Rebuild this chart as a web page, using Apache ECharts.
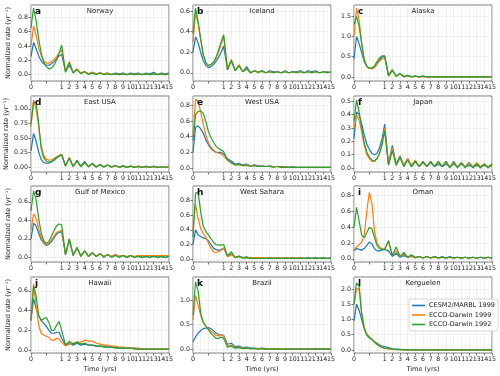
<!DOCTYPE html>
<html>
<head>
<meta charset="utf-8">
<script src="https://cdn.jsdelivr.net/npm/echarts@6/dist/echarts.min.js"></script>
<style>
  html, body { margin: 0; padding: 0; background: #fff; }
  #chart { width: 500px; height: 376px; }
</style>
</head>
<body>
<div id="chart"></div>
<script>
// sample times in years: monthly over the first year, then every half year
const T = [0, 0.083, 0.167, 0.25, 0.333, 0.417, 0.5, 0.583, 0.667, 0.75, 0.833, 0.917, 1,
  1.5, 2, 2.5, 3, 3.5, 4, 4.5, 5, 5.5, 6, 6.5, 7, 7.5, 8, 8.5, 9, 9.5, 10,
  10.5, 11, 11.5, 12, 12.5, 13, 13.5, 14, 14.5, 15];

// a Norway
const aCesm = [.25,.45,.36,.26,.19,.15,.13,.13,.15,.18,.22,.26,.28,
  .04,.13,.03,.07,.02,.04,.01,.03,.01,.02,.01,.02,0,.02,.01,.02,0,.02,.01,.02,0,.02,.01,.03,0,.02,.01,.02];
const aEcco99 = [.40,.68,.55,.38,.26,.19,.16,.16,.18,.21,.25,.30,.34,
  .05,.18,.03,.08,.02,.04,.01,.03,.01,.02,.01,.02,0,.01,0,.01,0,.01,0,.01,0,.01,0,.01,0,.01,0,.01];
const aEcco92 = [.65,.93,.75,.50,.30,.17,.11,.08,.09,.13,.20,.30,.41,
  .03,.17,.02,.07,.01,.04,0,.02,0,.02,0,.01,0,.01,0,.01,0,.01,0,.01,0,.01,0,.01,0,.01,0,.01];
// b Iceland
const bCesm = [.20,.35,.29,.20,.12,.07,.05,.06,.08,.11,.15,.20,.26,
  .03,.12,.02,.07,.01,.06,0,.02,.01,.02,0,.02,.01,.01,0,.02,0,.01,.01,.02,0,.02,.01,.02,0,.01,.01,0];
const bEcco99 = [.30,.58,.48,.32,.18,.10,.07,.08,.10,.14,.20,.28,.35,
  .03,.13,.02,.08,.01,.04,0,.02,.01,.01,0,.01,0,.01,0,.01,0,.01,0,.01,0,.01,0,.01,0,.01,0,.01];
const bEcco92 = [.38,.63,.50,.33,.18,.10,.07,.08,.10,.15,.22,.30,.37,
  .03,.12,.02,.07,.01,.04,0,.02,0,.02,0,.01,0,.01,0,.01,0,.01,0,.01,0,.01,0,.01,0,.01,0,.01];
// c Alaska
const cCesm = [.45,1.00,.82,.60,.38,.26,.21,.21,.25,.33,.42,.49,.52,
  .05,.17,.03,.08,.01,.04,.01,.02,0,.02,0,.01,0,.01,0,.01,0,.01,0,.01,0,.01,0,.01,0,.01,0,.01];
const cEcco99 = [1.00,1.70,1.40,.85,.42,.26,.21,.20,.23,.31,.39,.45,.47,
  .04,.15,.02,.07,.01,.03,0,.02,0,.01,0,.01,0,.01,0,.01,0,.01,0,.01,0,.01,0,.01,0,.01,0,.01];
const cEcco92 = [1.30,1.50,1.25,.82,.42,.26,.22,.22,.27,.38,.47,.52,.52,
  .02,.18,.01,.09,0,.04,0,.02,0,.02,0,.01,0,.01,0,.01,0,.01,0,.01,0,.01,0,.01,0,.01,0,.01];
// d East USA
const dCesm = [.28,.58,.45,.26,.13,.08,.07,.07,.09,.12,.16,.19,.21,
  .03,.16,.02,.12,.02,.10,.01,.07,.01,.05,.01,.04,.01,.03,0,.03,0,.02,0,.02,0,.02,0,.02,0,.01,0,.01];
const dEcco99 = [.70,1.15,1.00,.70,.36,.20,.14,.12,.13,.15,.18,.20,.22,
  .02,.17,.02,.11,.01,.08,.01,.06,.01,.05,.01,.04,0,.03,0,.02,0,.02,0,.02,0,.01,0,.01,0,.01,0,.01];
const dEcco92 = [.75,1.12,1.10,.75,.32,.16,.10,.09,.10,.13,.17,.20,.22,
  .02,.16,.01,.11,.01,.08,.01,.06,0,.05,0,.04,0,.03,0,.02,0,.02,0,.01,0,.01,0,.01,0,.01,0,.01];
// e West USA
const eCesm = [.20,.52,.54,.50,.45,.36,.30,.25,.22,.20,.20,.20,.18,
  .12,.09,.05,.06,.04,.05,.03,.04,.03,.03,.02,.03,.02,.02,.02,.02,.01,.02,.01,.01,.01,.01,.01,.01,.01,.01,.01,.01];
const eEcco99 = [.40,.88,.85,.72,.56,.42,.33,.27,.23,.20,.19,.18,.15,
  .10,.06,.04,.05,.03,.04,.03,.03,.02,.03,.02,.02,.02,.02,.01,.02,.01,.01,.01,.01,.01,.01,.01,.01,.01,.01,.01,.01];
const eEcco92 = [.35,.68,.72,.73,.70,.60,.47,.39,.33,.28,.25,.23,.21,
  .10,.07,.04,.04,.03,.03,.02,.03,.02,.02,.02,.02,.01,.02,.01,.01,.01,.01,.01,.01,.01,.01,.01,.01,.01,.01,.01,.01];
// f Japan
const fCesm = [.22,.42,.40,.33,.25,.18,.14,.11,.10,.11,.15,.22,.33,
  .03,.17,.03,.09,.02,.07,.01,.05,.01,.04,.01,.04,.01,.03,.01,.03,.01,.03,.01,.03,.01,.02,.01,.02,.01,.02,.01,.02];
const fEcco99 = [.30,.40,.36,.27,.17,.10,.07,.05,.05,.07,.11,.18,.30,
  .03,.15,.02,.08,.02,.07,.02,.06,.01,.05,.01,.05,.01,.05,.01,.05,.01,.04,.01,.04,.01,.04,.01,.04,.01,.03,.01,.03];
const fEcco92 = [.35,.51,.42,.30,.19,.12,.08,.06,.05,.07,.11,.18,.28,
  .02,.13,.02,.08,.01,.06,.01,.05,.01,.05,.01,.05,.01,.05,.01,.05,0,.05,0,.04,0,.04,0,.03,0,.03,0,.03];
// g Gulf of Mexico
const gCesm = [.20,.37,.34,.26,.19,.15,.13,.14,.17,.21,.25,.27,.28,
  .03,.18,.03,.10,.02,.07,.01,.05,.01,.04,.01,.03,.01,.03,.01,.02,0,.02,0,.02,0,.01,0,.02,0,.01,0,.01];
const gEcco99 = [.30,.47,.42,.31,.21,.16,.14,.15,.19,.23,.27,.28,.29,
  .03,.20,.02,.10,.01,.07,.01,.05,.01,.04,.01,.03,.01,.03,.01,.02,.01,.02,.01,.02,.02,.02,.02,.02,.02,.02,.02,.02];
const gEcco92 = [.50,.72,.62,.42,.26,.18,.15,.17,.23,.29,.34,.36,.35,
  .03,.20,.02,.11,.01,.07,.01,.05,.01,.04,0,.03,0,.02,0,.02,0,.02,0,.01,0,.01,0,.01,0,.01,0,.01];
// h West Sahara
const hCesm = [.20,.40,.33,.31,.29,.28,.25,.20,.15,.13,.12,.13,.15,
  .05,.07,.02,.04,.02,.03,.01,.02,.01,.02,.01,.02,.01,.02,.01,.02,.01,.02,.01,.02,.01,.02,.01,.02,.01,.02,.01,.02];
const hEcco99 = [.40,.75,.55,.42,.35,.30,.22,.15,.10,.09,.10,.12,.15,
  .03,.06,.02,.03,.02,.02,.02,.02,.02,.02,.01,.02,.01,.02,.01,.02,.01,.02,.01,.02,.01,.01,.01,.01,.01,.01,.01,.01];
const hEcco92 = [.30,.90,.92,.65,.45,.38,.33,.28,.23,.20,.19,.19,.20,
  .04,.10,.02,.04,.01,.02,.01,.01,.01,.01,.01,.01,.01,.01,.01,.01,.01,.01,.01,.01,.01,.01,.01,.01,.01,.01,.01,.01];
// i Oman
const iCesm = [.10,.13,.12,.11,.13,.17,.21,.19,.13,.10,.10,.11,.12,
  .10,.03,.07,.02,.04,.02,.03,.01,.03,.01,.03,.01,.03,.01,.03,.01,.03,.01,.02,.01,.02,.01,.02,.01,.02,.01,.02,.01];
const iEcco99 = [.12,.15,.18,.21,.30,.60,.84,.70,.35,.20,.15,.13,.12,
  .22,.05,.10,.03,.06,.02,.04,.01,.03,.01,.03,.01,.02,.01,.02,.01,.02,.01,.02,.01,.02,.01,.02,.01,.02,.01,.02,.01];
const iEcco92 = [.40,.65,.48,.30,.27,.33,.40,.38,.27,.17,.13,.12,.12,
  .23,.04,.15,.03,.08,.02,.05,.02,.03,.01,.03,.01,.03,.01,.02,.01,.02,.01,.02,.01,.02,.01,.02,.01,.02,.01,.02,.01];
// j Hawaii
const jCesm = [.30,.52,.42,.35,.30,.27,.24,.20,.17,.17,.18,.18,.12,
  .05,.07,.05,.07,.05,.06,.05,.05,.04,.04,.04,.03,.03,.03,.02,.02,.02,.02,.02,.01,.01,.01,.01,.01,.01,.01,.01,.01];
const jEcco99 = [.30,.67,.45,.25,.17,.15,.14,.13,.10,.10,.12,.11,.08,
  .04,.06,.07,.08,.08,.10,.09,.09,.07,.06,.05,.05,.04,.04,.03,.03,.02,.02,.02,.02,.01,.01,.01,.01,.01,.01,.01,.01];
const jEcco92 = [.30,.65,.55,.35,.30,.32,.33,.28,.20,.20,.25,.29,.20,
  .05,.09,.06,.08,.06,.07,.05,.05,.04,.04,.03,.03,.03,.02,.02,.02,.02,.02,.01,.01,.01,.01,.01,.01,.01,.01,.01,.01];
// k Brazil
const kCesm = [.15,.25,.33,.38,.42,.43,.44,.42,.38,.33,.30,.29,.28,
  .10,.12,.05,.06,.03,.04,.02,.02,.01,.02,.01,.01,.01,.01,0,.01,0,.01,0,.01,0,.01,0,.01,0,.01,0,.01];
const kEcco99 = [.60,1.10,.90,.70,.55,.48,.42,.37,.33,.28,.27,.30,.28,
  .06,.08,.03,.04,.02,.02,.01,.01,.01,.01,0,.01,0,.01,0,.01,0,0,0,0,0,0,0,0,0,0,0,0];
const kEcco92 = [.70,1.38,1.20,.75,.55,.47,.40,.33,.27,.22,.22,.25,.22,
  .04,.06,.02,.03,.01,.02,.01,.01,0,.01,0,0,0,0,0,0,0,0,0,0,0,0,0,0,0,0,0,0];
// l Kerguelen
const lCesm = [.95,1.50,1.30,1.00,.70,.52,.42,.35,.28,.22,.16,.13,.11,
  .08,.04,.03,.02,.01,.01,0,.01,0,0,0,0,0,0,0,0,0,0,0,0,0,0,0,0,0,0,0,0];
const lEcco99 = [1.50,2.00,2.00,1.20,.75,.50,.42,.35,.27,.20,.13,.08,.05,
  .03,.02,.01,.01,0,0,0,0,0,0,0,0,0,0,0,0,0,0,0,0,0,0,0,0,0,0,0,0];
const lEcco92 = [1.50,2.20,2.10,1.20,.70,.48,.40,.33,.25,.18,.12,.08,.06,
  .05,.03,.02,.01,0,0,0,0,0,0,0,0,0,0,0,0,0,0,0,0,0,0,0,0,0,0,0,0];

const regions = ['Norway', 'Iceland', 'Alaska', 'East USA', 'West USA', 'Japan',
  'Gulf of Mexico', 'West Sahara', 'Oman', 'Hawaii', 'Brazil', 'Kerguelen'];
const letters = ['a', 'b', 'c', 'd', 'e', 'f', 'g', 'h', 'i', 'j', 'k', 'l'];
const seriesNames = ['CESM2/MARBL 1999', 'ECCO-Darwin 1999', 'ECCO-Darwin 1992'];
const yTicks = [
  [0, 0.2, 0.4, 0.6, 0.8], [0, 0.2, 0.4, 0.6], [0, 0.5, 1, 1.5],
  [0, 0.25, 0.5, 0.75, 1], [0, 0.2, 0.4, 0.6, 0.8], [0, 0.1, 0.2, 0.3, 0.4, 0.5],
  [0, 0.2, 0.4, 0.6], [0, 0.2, 0.4, 0.6, 0.8], [0, 0.2, 0.4, 0.6, 0.8],
  [0, 0.2, 0.4, 0.6], [0, 0.5, 1], [0, 0.5, 1, 1.5, 2]
];
const yDecimals = [1, 1, 1, 2, 1, 1, 1, 1, 1, 1, 1, 1];
const yMin = [-0.09, -0.08, -0.1, -0.08, -0.05, -0.03, -0.05, -0.04, -0.04, -0.03, -0.08, -0.1];
const yMax = [0.97, 0.66, 1.78, 1.22, 0.92, 0.54, 0.77, 1.0, 0.92, 0.74, 1.48, 2.39];
const xTickYears = [0, 0.5, 1, 2, 3, 4, 5, 6, 7, 8, 9, 10, 11, 12, 13, 14, 15];

const panels = [
  [aCesm, aEcco99, aEcco92], [bCesm, bEcco99, bEcco92], [cCesm, cEcco99, cEcco92],
  [dCesm, dEcco99, dEcco92], [eCesm, eEcco99, eEcco92], [fCesm, fEcco99, fEcco92],
  [gCesm, gEcco99, gEcco92], [hCesm, hEcco99, hEcco92], [iCesm, iEcco99, iEcco92],
  [jCesm, jEcco99, jEcco92], [kCesm, kEcco99, kEcco92], [lCesm, lEcco99, lEcco92]
];

const colors = ['#1f77b4', '#ff7f0e', '#2ca02c'];
const font = 'DejaVu Sans';
const colLeft = [31, 193, 354];
const rowTop = [5, 96, 186, 277];
const W = 138, H = 76;

// first year is stretched 4x on the time axis
const toU = (t) => (t <= 1 ? t * 4 : t + 3);
const fromU = (u) => (u <= 4 ? u / 4 : u - 3);

// label positions; a blank dummy sits last so echarts' max-label hiding
// drops it instead of the "14"
const xLabelValues = xTickYears.map(toU).concat([17.99]);

const chart = echarts.init(document.getElementById('chart'), null, { renderer: 'canvas' });

const grid = [], xAxis = [], yAxis = [], series = [], title = [];

regions.forEach((name, i) => {
  const col = i % 3, row = Math.floor(i / 3);
  const left = colLeft[col], top = rowTop[row];

  grid.push({
    left: left, top: top, width: W, height: H,
    show: true, borderColor: '#555', borderWidth: 0.8,
    outerBoundsMode: 'none'
  });

  // main time axis: ticks and labels
  xAxis.push({
    gridIndex: i, type: 'value', min: 0, max: 18,
    name: row === 3 ? 'Time (yrs)' : '',
    nameLocation: 'middle', nameGap: 13,
    nameTextStyle: { fontSize: 6.5, color: '#222', fontFamily: font },
    axisLine: { show: false, onZero: false },
    axisTick: {
      show: true, length: 2.5, lineStyle: { color: '#555', width: 0.8 },
      customValues: xTickYears.map(toU)
    },
    axisLabel: {
      fontSize: 6.3, color: '#222', margin: 3, fontFamily: font,
      showMinLabel: true, showMaxLabel: false, hideOverlap: false,
      customValues: xLabelValues,
      formatter: (v) => {
        const t = fromU(v);
        return Math.abs(t - Math.round(t)) < 1e-6 ? String(Math.round(t)) : '';
      }
    },
    splitLine: { show: false }
  });
  // helper axis only for the faint vertical grid
  xAxis.push({
    gridIndex: i, type: 'value', min: 0, max: 18, interval: 1,
    position: 'bottom',
    axisLine: { show: false, onZero: false }, axisTick: { show: false }, axisLabel: { show: false },
    splitLine: { show: true, lineStyle: { color: '#e6e6e6', width: 0.6 } },
    minorTick: { show: false, splitNumber: 2 },
    minorSplitLine: { show: true, lineStyle: { color: '#f2f2f2', width: 0.5 } }
  });

  yAxis.push({
    gridIndex: i, type: 'value', min: yMin[i], max: yMax[i],
    name: col === 0 ? 'Normalized rate (yr\u207B\u00B9)' : '',
    nameLocation: 'middle', nameGap: 19,
    nameTextStyle: { fontSize: 6.5, color: '#222', fontFamily: font },
    axisLine: { show: false },
    axisTick: {
      show: true, length: 2.5, lineStyle: { color: '#555', width: 0.8 },
      customValues: yTicks[i]
    },
    axisLabel: {
      fontSize: 6.3, color: '#222', margin: 3, fontFamily: font,
      showMinLabel: true, showMaxLabel: true,
      customValues: yTicks[i],
      formatter: (v) => v.toFixed(yDecimals[i])
    },
    splitLine: { show: true, lineStyle: { color: '#e6e6e6', width: 0.6 } }
  });

  panels[i].forEach((vals, s) => {
    series.push({
      name: seriesNames[s], type: 'line',
      xAxisIndex: 2 * i, yAxisIndex: i,
      data: T.map((t, k) => [toU(t), vals[k]]),
      showSymbol: false, symbol: 'none',
      lineStyle: { color: colors[s], width: 1.2 },
      itemStyle: { color: colors[s] },
      z: 3 + s
    });
  });

  title.push({
    text: letters[i], left: left + 4, top: top + 2, padding: 0,
    textStyle: { fontSize: 9, fontWeight: 'bold', color: '#111', fontFamily: font }
  });
  title.push({
    text: name, left: left + W / 2, top: top + 3, padding: 0, textAlign: 'center',
    textStyle: { fontSize: 7, fontWeight: 'normal', color: '#222', fontFamily: font }
  });
});

chart.setOption({
  animation: false,
  textStyle: { fontFamily: font },
  title: title,
  grid: grid,
  xAxis: xAxis,
  yAxis: yAxis,
  legend: {
    data: seriesNames, orient: 'vertical', left: 409, top: 299,
    icon: 'rect', itemWidth: 13, itemHeight: 1.6, itemGap: 2.5,
    padding: [3, 3, 3, 3],
    backgroundColor: 'rgba(255,255,255,0.85)', borderColor: '#ccc', borderWidth: 0.8, borderRadius: 2,
    selectedMode: false,
    textStyle: { fontSize: 6.5, color: '#222', fontFamily: font, padding: [0, 0, 0, -1] }
  },
  series: series
});
</script>
</body>
</html>
